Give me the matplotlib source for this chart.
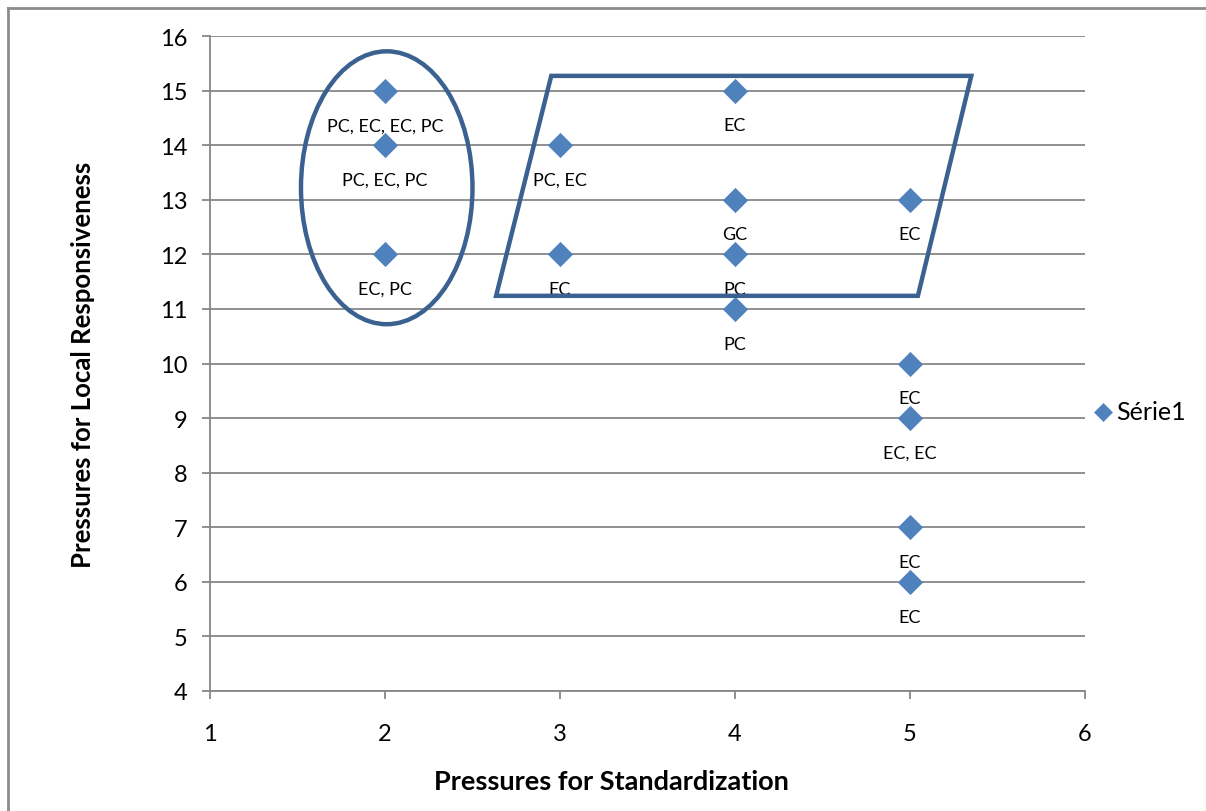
import matplotlib
matplotlib.use("Agg")
import matplotlib.pyplot as plt
from matplotlib.patches import Ellipse, Polygon
from matplotlib.lines import Line2D

# ---- data ----
x_vals = [2, 2, 2, 3, 3, 4, 4, 4, 4, 5, 5, 5, 5, 5]
y_vals = [15, 14, 12, 14, 12, 15, 13, 12, 11, 13, 10, 9, 7, 6]
point_labels = ["PC, EC, EC, PC", "PC, EC, PC", "EC, PC",
                "PC, EC", "EC",
                "EC", "GC", "PC", "PC",
                "EC", "EC", "EC, EC", "EC", "EC"]
series_name = "Série1"
x_ticks = [1, 2, 3, 4, 5, 6]
y_ticks = [4, 5, 6, 7, 8, 9, 10, 11, 12, 13, 14, 15, 16]
x_title = "Pressures for Standardization"
y_title = "Pressures for Local Responsiveness"

# highlight shapes (data coordinates)
ellipse_center = (2.01, 13.22)
ellipse_size = (0.98, 5.0)
para_x = [2.95, 5.35, 5.045, 2.635]
para_y = [15.27, 15.27, 11.24, 11.24]

# ---- style ----
plt.rcParams['font.family'] = ['Lato', 'DejaVu Sans']
marker_color = "#4F81BD"
shape_color = "#3B6190"
grid_color = "#878787"

fig = plt.figure(figsize=(12.06, 8.12), dpi=100)
ax = fig.add_axes([0.1741, 0.1478, 0.7256, 0.8066])

ax.scatter(x_vals, y_vals, marker="D", s=165, color=marker_color,
           linewidths=0, zorder=3, label=series_name)

for x, y, t in zip(x_vals, y_vals, point_labels):
    ax.annotate(t, (x, y), xytext=(0, -25), textcoords="offset points",
                ha="center", va="center", fontsize=13, color="black", zorder=4)

ax.add_patch(Ellipse(ellipse_center, ellipse_size[0], ellipse_size[1],
                     fill=False, edgecolor=shape_color, linewidth=3.2, zorder=5))
ax.add_patch(Polygon(list(zip(para_x, para_y)), closed=True, fill=False,
                     edgecolor=shape_color, linewidth=3.2, joinstyle="miter",
                     zorder=5))

ax.set_xlim(1, 6)
ax.set_ylim(4, 16)
ax.set_xticks(x_ticks)
ax.set_yticks(y_ticks)
ax.tick_params(axis="both", labelsize=17, length=6, width=1.3,
               color=grid_color, direction="out")
ax.tick_params(axis="x", pad=17)
ax.tick_params(axis="y", pad=10)
ax.grid(axis="y", color=grid_color, linewidth=1.3)
ax.set_axisbelow(True)
for s in ["top", "right"]:
    ax.spines[s].set_visible(False)
for s in ["left", "bottom"]:
    ax.spines[s].set_color(grid_color)
    ax.spines[s].set_linewidth(1.3)

ax.set_xlabel(x_title, fontsize=19.5, fontweight="bold", labelpad=18)
ax.xaxis.label.set_x(0.459)
ax.set_ylabel(y_title, fontsize=18.5, fontweight="bold", labelpad=47)

leg = ax.legend(loc="center left", bbox_to_anchor=(0.986, 0.427), frameon=False,
                fontsize=18, handletextpad=0.05, markerscale=0.75,
                handlelength=1.0, borderaxespad=0.3)

# outer chart frame (top & left edges visible)
fig.add_artist(Line2D([8 / 1206, 8 / 1206], [0, 1 - 9 / 812],
                      transform=fig.transFigure, color="#8C8C8C", linewidth=2))
fig.add_artist(Line2D([8 / 1206, 1], [1 - 9 / 812, 1 - 9 / 812],
                      transform=fig.transFigure, color="#8C8C8C", linewidth=2))

fig.savefig("out.png", dpi=100)
